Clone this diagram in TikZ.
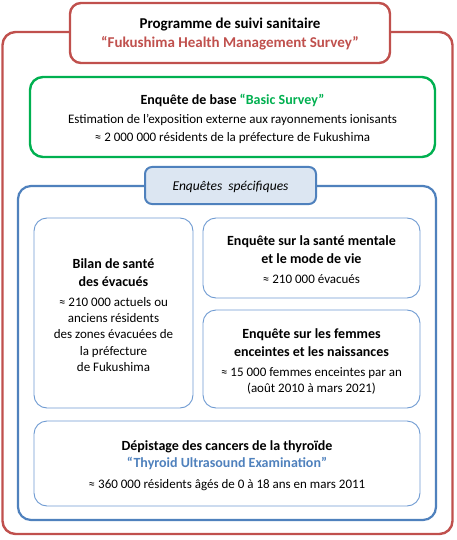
\documentclass[tikz,border=0pt]{standalone}
\usepackage{fontspec}
\setmainfont{Carlito}
\definecolor{cc0504d}{RGB}{192,80,77}
\definecolor{c00b050}{RGB}{0,176,80}
\definecolor{c4f81bd}{RGB}{79,129,189}
\definecolor{c6f9bd2}{RGB}{111,155,210}
\definecolor{cdce6f2}{RGB}{220,230,242}
\definecolor{cffffff}{RGB}{255,255,255}

\tikzset{
  panel/.style={rounded corners=13pt, fill=cffffff},
  txt/.style={align=center, font=\fontsize{13}{16.3}\selectfont},
}
\newcommand{\hd}[1]{{\fontsize{14}{16.3}\selectfont\bfseries #1}}

\begin{document}
\begin{tikzpicture}[y=1pt, x=1pt, yscale=-1, xscale=1, inner sep=0pt, outer sep=0pt]
\useasboundingbox (0,0) rectangle (457,540);
\begin{scope}% programme
  % red frame
  \node[panel, draw=cc0504d, line width=2.4pt, minimum width=450pt, minimum height=502pt] (prog) at (227.5,283) {};
  % title box
  \node[panel, draw=cc0504d, line width=2.4pt, rounded corners=11pt, minimum width=320pt, minimum height=60pt] (titlebox) at (230,33) {};
  \node[txt, font=\fontsize{15}{19}\selectfont\bfseries] (title) at (230,34)
    {Programme de suivi sanitaire\\\textcolor{cc0504d}{“Fukushima Health Management Survey”}};
\end{scope}
\begin{scope}% basic survey
  \node[panel, draw=c00b050, line width=2.4pt, minimum width=405pt, minimum height=80pt] (basic) at (232.5,117) {};
  \node[txt, font=\fontsize{13}{18.3}\selectfont] (basictxt) at (232.5,119)
    {\hd{Enquête de base \textcolor{c00b050}{“Basic Survey”}}\\
     Estimation de l’exposition externe aux rayonnements ionisants\\
     ≈ 2~000~000 résidents de la préfecture de Fukushima};
\end{scope}
\begin{scope}% specific surveys
  \node[panel, draw=c4f81bd, line width=2.2pt, minimum width=418pt, minimum height=334pt] (spec) at (227,353) {};
  \node[panel, draw=c4f81bd, fill=cdce6f2, line width=2pt, rounded corners=7pt, minimum width=171pt, minimum height=37pt] (speclabel) at (230.5,185.5) {};
  \node[txt, font=\fontsize{13.5}{17}\selectfont\itshape] (spectxt) at (230.5,186.5) {Enquêtes\ \ spécifiques};
  % evacuees
  \node[panel, draw=c6f9bd2, line width=0.9pt, minimum width=159pt, minimum height=190pt] (evac) at (113.5,313) {};
  \node[txt] (evactxt) at (113.5,315)
    {\hd{Bilan de santé}\\[1.7pt]\hd{des évacués}\\[3.7pt]
     ≈ 210~000 actuels ou\\anciens résidents\\des zones évacuées de\\la préfecture\\de Fukushima};
  % mental health
  \node[panel, draw=c6f9bd2, line width=0.9pt, minimum width=217pt, minimum height=80pt] (mental) at (311.5,258) {};
  \node[txt] (mentaltxt) at (311.5,259.5)
    {\hd{Enquête sur la santé mentale}\\[1.7pt]\hd{et le mode de vie}\\[4pt]
     ≈ 210~000 évacués};
  % pregnancy
  \node[panel, draw=c6f9bd2, line width=0.9pt, minimum width=217pt, minimum height=98pt] (preg) at (311.5,359) {};
  \node[txt] (pregtxt) at (311.5,361.5)
    {\hd{Enquête sur les femmes}\\[1.7pt]\hd{enceintes et les naissances}\\[4pt]
     ≈ 15~000 femmes enceintes par an\\(août 2010 à mars 2021)};
  % thyroid
  \node[panel, draw=c6f9bd2, line width=0.9pt, minimum width=386pt, minimum height=85pt] (thyr) at (227,463.5) {};
  \node[txt] (thyrtxt) at (227,465.5)
    {\hd{Dépistage\ des cancers de la thyroïde}\\[1pt]\hd{\textcolor{c4f81bd}{“Thyroid\ Ultrasound Examination”}}\\[4pt]
     ≈ 360~000 résidents âgés de 0 à 18 ans en mars 2011};
\end{scope}
\end{tikzpicture}
\end{document}
